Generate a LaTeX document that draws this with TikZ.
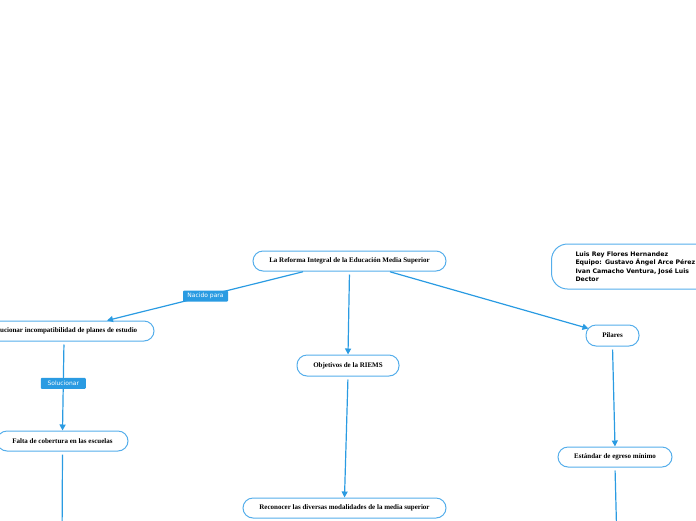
\documentclass[tikz,border=0pt]{standalone}
\usepackage{fontspec}
\setmainfont{Liberation Serif}
\newfontfamily\infofont{DejaVu Sans}
\usetikzlibrary{arrows.meta}
\definecolor{mmblue}{HTML}{2A9BE2}
\definecolor{mmedge}{HTML}{55AEEB}
\tikzset{
  topic/.style={draw=mmedge, line width=1pt, fill=white, rounded corners=10pt,
    minimum height=20pt, inner sep=0pt, font=\fontsize{7}{8}\selectfont\bfseries},
  link/.style={draw=mmblue, line width=1.2pt, -{Triangle[length=6pt,width=6pt]}, shorten <=3pt},
  tag/.style={fill=mmblue, text=white, font=\infofont\fontsize{6}{7}\selectfont,
    inner sep=0pt, minimum width=45pt, minimum height=11pt, rounded corners=1pt},
}
\begin{document}
\begin{tikzpicture}[x=1pt,y=-1pt]
\useasboundingbox (0,0) rectangle (696,520);
\clip (0,0) rectangle (696,520);
% topics
\node[topic, minimum width=193pt] (root) at (349.5,261) {La Reforma Integral de la Educación Media Superior};
\node[topic, minimum width=180pt] (solve) at (64,331) {Solucionar incompatibilidad de planes de estudio};
\node[topic, minimum width=131pt] (falta) at (62.5,441) {Falta de cobertura en las escuelas};
\node[topic, minimum width=102pt, minimum height=21pt] (obj) at (348,365.5) {Objetivos de la RIEMS};
\node[topic, minimum width=203pt] (rec) at (344.5,508) {Reconocer las diversas modalidades de la media superior};
\node[topic, minimum width=53pt, minimum height=21pt] (pil) at (612.5,335.5) {Pilares};
\node[topic, minimum width=114pt] (est) at (615,457) {Estándar de egreso mínimo};
% team
\node[draw=mmedge, line width=1pt, rounded corners=16pt, anchor=west, minimum height=45pt,
  text width=250pt, inner xsep=24pt, align=left,
  font=\infofont\bfseries\fontsize{6.2}{8.5}\selectfont] (info) at (551,266.5)
  {Luis Rey Flores Hernandez\\Equipo: Gustavo Ángel Arce Pérez\\Ivan Camacho Ventura, José Luis\\Dector};
\coordinate (faltaend) at (62,545);
\coordinate (estend) at (617,545);
% connectors
\draw[link, shorten <=1pt] ([xshift=-45.5pt]root.south) -- node[tag, pos=0.5] {Nacido para} ([xshift=43pt]solve.north);
\draw[link] (root.south) -- (obj.north);
\draw[link, shorten <=1pt] ([xshift=39.5pt]root.south) -- ([xshift=3pt,yshift=-4pt]pil.north west);
\draw[link] (solve.south) -- node[tag, pos=0.47] {Solucionar} (falta.north);
\draw[link] (obj.south) -- (rec.north);
\draw[link] (pil.south) -- (est.north);
\draw[link] (falta.south) -- (faltaend);
\draw[link] (est.south) -- (estend);
\end{tikzpicture}
\end{document}
